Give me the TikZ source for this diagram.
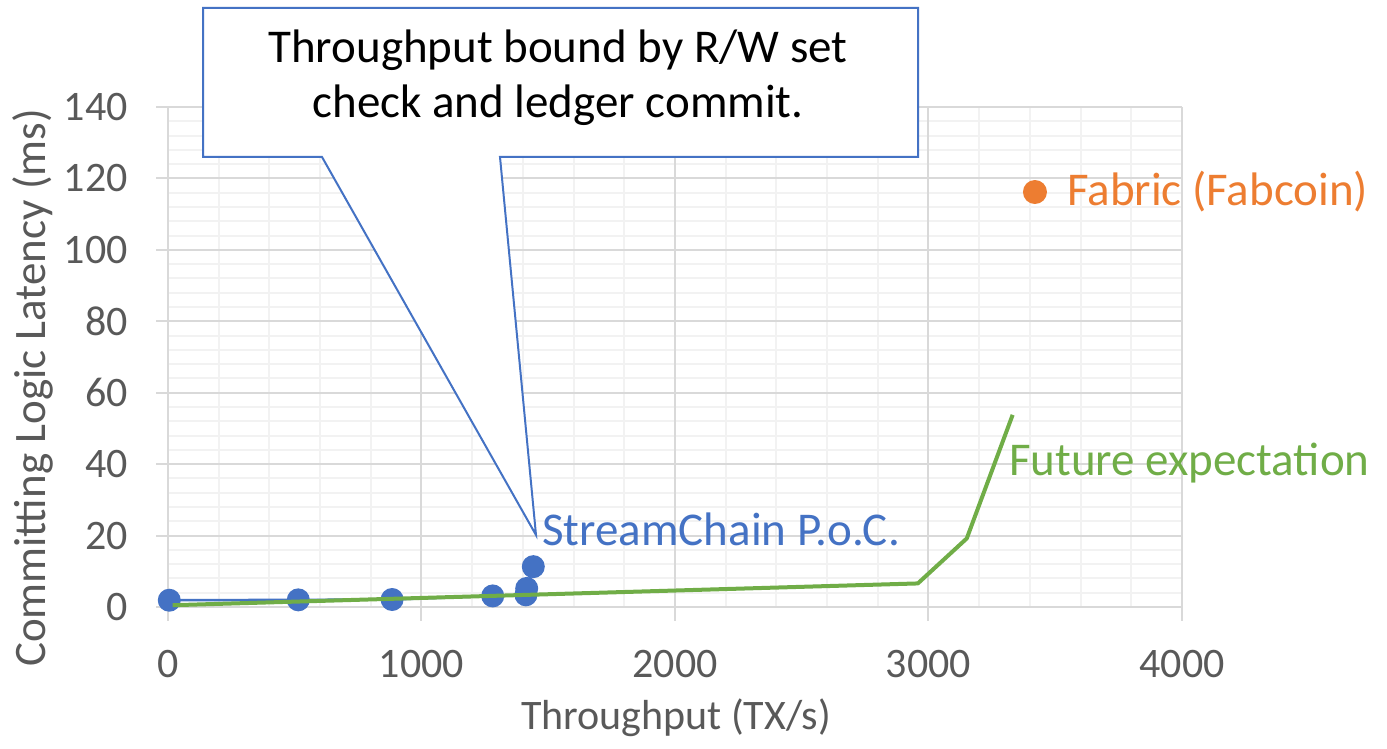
\documentclass[tikz,border=0pt]{standalone}
\usepackage{fontspec}
\setmainfont{Carlito}
\definecolor{serblue}{HTML}{4472C4}
\definecolor{serorange}{HTML}{ED7D31}
\definecolor{sergreen}{HTML}{70AD47}
\definecolor{gridmajor}{HTML}{D9D9D9}
\definecolor{gridminor}{HTML}{F2F2F2}
\definecolor{axistext}{HTML}{595959}
\tikzset{
  txt/.style={font=\fontsize{42}{50}\selectfont, inner sep=0pt},
  bigtxt/.style={font=\fontsize{47}{55}\selectfont, inner sep=0pt},
  ticklabel/.style={txt, text=axistext},
  minorgrid/.style={draw=gridminor, line width=2pt},
  majorgrid/.style={draw=gridmajor, line width=2pt},
  dotblue/.style={circle, fill=serblue, minimum size=23pt, inner sep=0pt},
  dotorange/.style={circle, fill=serorange, minimum size=24pt, inner sep=0pt},
  calloutbox/.style={draw=serblue, line width=2pt, fill=white, line join=miter},
}
\begin{document}
\begin{tikzpicture}[x=1pt, y=-1pt]
\useasboundingbox (0,0) rectangle (1387,749);
\fill[white] (0,0) rectangle (1387,749);

% data coordinate system: x in TX/s, y in ms
\begin{scope}[xshift=168pt, yshift=-607pt, x=0.2535pt, y=3.5714pt]
  % minor grid
  \foreach \gx in {200,400,...,3800} \draw[minorgrid] (\gx,0) -- (\gx,140);
  \foreach \gy in {4,8,...,136} \draw[minorgrid] (0,\gy) -- (4000,\gy);
  % major grid
  \foreach \gx in {1000,2000,3000,4000} \draw[majorgrid] (\gx,-3.8) -- (\gx,140);
  \foreach \gy in {20,40,...,140} \draw[majorgrid] (-47,\gy) -- (4000,\gy);
  % axes
  \draw[majorgrid] (0,-3.8) -- (0,140);
  \draw[majorgrid] (-47,0) -- (4000,0);
  % tick labels
  \foreach \gy in {0,20,...,140}
    \node[ticklabel, anchor=east] (yl\gy) at (-158,\gy) {\gy};
  \foreach \gx in {0,1000,2000,3000,4000}
    \node[ticklabel] (xl\gx) at (\gx,-16) {\gx};

  % StreamChain series
  \coordinate (s1) at (5,1.9);
  \coordinate (s2) at (514,2.0);
  \coordinate (s3) at (884,2.1);
  \coordinate (s4) at (1281,3.1);
  \coordinate (s5) at (1412,3.4);
  \coordinate (s6) at (1415,5.2);
  \coordinate (s7) at (1441,11.3);
  \draw[serblue, line width=2.5pt] (s1) -- (s2) -- (s3) -- (s4) -- (s5) -- (s6) -- (s7);
  \foreach \k in {1,...,7} \node[dotblue] (d\k) at (s\k) {};

  % expected trend
  \coordinate (g1) at (18,0.5);
  \coordinate (g2) at (2958,6.6);
  \coordinate (g3) at (3151,19.2);
  \coordinate (g4) at (3332,53.8);
  \draw[sergreen, line width=4pt, line join=round] (g1) -- (g2) -- (g3) -- (g4);

  % Fabric point
  \node[dotorange] (fab) at (3420,116.2) {};
\end{scope}

% series labels
\node[bigtxt, text=serblue, anchor=base west] (lblsc) at (542,545) {StreamChain P.o.C.};
\node[bigtxt, text=serorange, anchor=base west] (lblfab) at (1067,205) {Fabric (Fabcoin)};
\node[bigtxt, text=sergreen, anchor=base west] (lblfut) at (1009,475) {Future expectation};

% axis titles
\node[ticklabel] (xtitle) at (676,718) {Throughput (TX/s)};
\node[ticklabel, font=\fontsize{45}{50}\selectfont, rotate=90] (ytitle) at (33,388) {Committing Logic Latency (ms)};

% callout
\coordinate (tip) at (536,535);
\draw[calloutbox] (203,8) -- (918,8) -- (918,157) -- (500,157) -- (tip) -- (322,157) -- (203,157) -- cycle;
\node[bigtxt, text=black, anchor=base] (note1) at (558,63) {Throughput bound by R/W set};
\node[bigtxt, text=black, anchor=base] (note2) at (558,118) {check and ledger commit.};
\end{tikzpicture}
\end{document}
